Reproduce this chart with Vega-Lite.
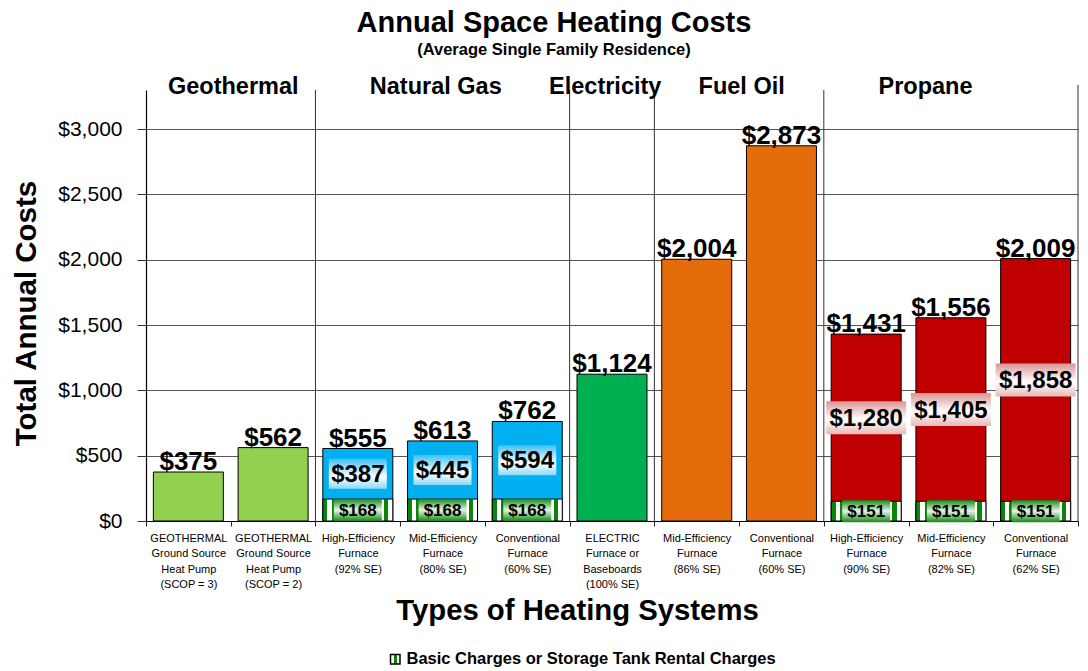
{
  "$schema": "https://vega.github.io/schema/vega-lite/v6.json",
  "width": 932,
  "height": 431,
  "autosize": {"type": "none"},
  "padding": {"left": 146, "top": 90, "right": 10, "bottom": 150},
  "background": "white",
  "config": {
    "view": {"stroke": null},
    "font": "Liberation Sans",
    "text": {"font": "Liberation Sans"}
  },
  "title": {
    "text": "Annual Space Heating Costs",
    "subtitle": "(Average Single Family Residence)",
    "font": "Liberation Sans",
    "fontSize": 29,
    "fontWeight": "bold",
    "color": "black",
    "subtitleFont": "Liberation Sans",
    "subtitleFontSize": 16.5,
    "subtitleFontWeight": "bold",
    "subtitleColor": "black",
    "subtitlePadding": 4,
    "anchor": "middle",
    "dx": -58,
    "offset": 17
  },
  "datasets": {
    "costs": [
      {"sys": "GEOTHERMAL|Ground Source|Heat Pump|(SCOP = 3)", "fuel": "Geothermal", "base": 0, "energy": 375, "total": 375},
      {"sys": "GEOTHERMAL|Ground Source|Heat Pump|(SCOP = 2)", "fuel": "Geothermal", "base": 0, "energy": 562, "total": 562},
      {"sys": "High-Efficiency|Furnace|(92% SE)", "fuel": "Natural Gas", "base": 168, "energy": 387, "total": 555},
      {"sys": "Mid-Efficiency|Furnace|(80% SE)", "fuel": "Natural Gas", "base": 168, "energy": 445, "total": 613},
      {"sys": "Conventional|Furnace|(60% SE)", "fuel": "Natural Gas", "base": 168, "energy": 594, "total": 762},
      {"sys": "ELECTRIC|Furnace or|Baseboards|(100% SE)", "fuel": "Electricity", "base": 0, "energy": 1124, "total": 1124},
      {"sys": "Mid-Efficiency|Furnace|(86% SE)", "fuel": "Fuel Oil", "base": 0, "energy": 2004, "total": 2004},
      {"sys": "Conventional|Furnace|(60% SE) ", "fuel": "Fuel Oil", "base": 0, "energy": 2873, "total": 2873},
      {"sys": "High-Efficiency|Furnace|(90% SE)", "fuel": "Propane", "base": 151, "energy": 1280, "total": 1431},
      {"sys": "Mid-Efficiency|Furnace|(82% SE)", "fuel": "Propane", "base": 151, "energy": 1405, "total": 1556},
      {"sys": "Conventional|Furnace|(62% SE)", "fuel": "Propane", "base": 151, "energy": 1858, "total": 2009}
    ],
    "groupStarts": [
      {"at": "High-Efficiency|Furnace|(92% SE)"},
      {"at": "ELECTRIC|Furnace or|Baseboards|(100% SE)"},
      {"at": "Mid-Efficiency|Furnace|(86% SE)"},
      {"at": "High-Efficiency|Furnace|(90% SE)"}
    ],
    "lastGroupEnd": [
      {"at": "Conventional|Furnace|(62% SE)"}
    ],
    "headersA": [
      {"name": "Geothermal", "at": "GEOTHERMAL|Ground Source|Heat Pump|(SCOP = 2)"},
      {"name": "Fuel Oil", "at": "Conventional|Furnace|(60% SE) "}
    ],
    "headersB": [
      {"name": "Natural Gas", "at": "Mid-Efficiency|Furnace|(80% SE)"},
      {"name": "Electricity", "at": "ELECTRIC|Furnace or|Baseboards|(100% SE)"}
    ],
    "headersC": [
      {"name": "Propane", "at": "Mid-Efficiency|Furnace|(82% SE)"}
    ]
  },
  "layer": [
    {
      "data": {"name": "costs"},
      "mark": {"type": "bar", "width": {"band": 0.826}, "stroke": "black", "strokeWidth": 1},
      "encoding": {
        "x": {
          "field": "sys",
          "type": "nominal",
          "sort": null,
          "scale": {
            "paddingInner": 0,
            "paddingOuter": 0,
            "domain": [
              "GEOTHERMAL|Ground Source|Heat Pump|(SCOP = 3)",
              "GEOTHERMAL|Ground Source|Heat Pump|(SCOP = 2)",
              "High-Efficiency|Furnace|(92% SE)",
              "Mid-Efficiency|Furnace|(80% SE)",
              "Conventional|Furnace|(60% SE)",
              "ELECTRIC|Furnace or|Baseboards|(100% SE)",
              "Mid-Efficiency|Furnace|(86% SE)",
              "Conventional|Furnace|(60% SE) ",
              "High-Efficiency|Furnace|(90% SE)",
              "Mid-Efficiency|Furnace|(82% SE)",
              "Conventional|Furnace|(62% SE)"
            ]
          },
          "axis": {
            "title": "Types of Heating Systems",
            "titleFont": "Liberation Sans",
            "titleFontSize": 29.3,
            "titleFontWeight": "bold",
            "titleColor": "black",
            "titleX": 431,
            "titleY": 89,
            "titleAlign": "center",
            "titleBaseline": "middle",
            "labelExpr": "split(datum.label, '|')",
            "labelAngle": 0,
            "labelFont": "Liberation Sans",
            "labelFontSize": 11,
            "labelLineHeight": 15.5,
            "labelColor": "black",
            "labelLimit": 0,
            "labelPadding": 6,
            "tickBand": "extent",
            "tickSize": 5,
            "tickColor": "#222",
            "domainColor": "black",
            "domainWidth": 1.2
          }
        },
        "y": {
          "field": "total",
          "type": "quantitative",
          "scale": {"domain": [0, 3300], "nice": false},
          "axis": {
            "title": "Total Annual Costs",
            "titleFont": "Liberation Sans",
            "titleFontSize": 29.5,
            "titleFontWeight": "bold",
            "titleColor": "black",
            "titleX": -120,
            "titleY": 223,
            "titleAngle": -90,
            "titleAlign": "center",
            "titleBaseline": "middle",
            "values": [0, 500, 1000, 1500, 2000, 2500, 3000],
            "format": "$,d",
            "labelFontSize": 21,
            "labelColor": "black",
            "labelPadding": 15,
            "tickSize": 9,
            "tickColor": "#333",
            "domainColor": "black",
            "domainWidth": 1.2,
            "grid": true,
            "gridColor": "#555",
            "gridWidth": 1
          }
        },
        "color": {
          "field": "fuel",
          "type": "nominal",
          "scale": {
            "domain": ["Geothermal", "Natural Gas", "Electricity", "Fuel Oil", "Propane"],
            "range": ["#92D050", "#00B0F0", "#00B050", "#E46C0A", "#C00000"]
          },
          "legend": null
        }
      }
    },
    {
      "data": {"name": "groupStarts"},
      "mark": {"type": "rule", "color": "#333", "strokeWidth": 1},
      "encoding": {
        "x": {"field": "at", "type": "nominal", "bandPosition": 0},
        "y": {"datum": 0},
        "y2": {"datum": 3300}
      }
    },
    {
      "data": {"name": "lastGroupEnd"},
      "mark": {"type": "rule", "color": "#333", "strokeWidth": 1},
      "encoding": {
        "x": {"field": "at", "type": "nominal", "bandPosition": 1},
        "y": {"datum": 0},
        "y2": {"datum": 3340}
      }
    },
    {
      "data": {"name": "costs"},
      "transform": [{"filter": "datum.base > 0"}],
      "mark": {
        "type": "bar",
        "width": {"band": 0.826},
        "strokeWidth": 1,
        "fill": {
          "gradient": "linear", "x1": 0, "y1": 0, "x2": 1, "y2": 0,
          "stops": [
            {"offset": 0, "color": "#0A850A"}, {"offset": 0.0625, "color": "#0A850A"},
            {"offset": 0.0625, "color": "#FFFFFF"}, {"offset": 0.125, "color": "#FFFFFF"},
            {"offset": 0.125, "color": "#0A850A"}, {"offset": 0.1875, "color": "#0A850A"},
            {"offset": 0.1875, "color": "#FFFFFF"}, {"offset": 0.25, "color": "#FFFFFF"},
            {"offset": 0.25, "color": "#0A850A"}, {"offset": 0.3125, "color": "#0A850A"},
            {"offset": 0.3125, "color": "#FFFFFF"}, {"offset": 0.375, "color": "#FFFFFF"},
            {"offset": 0.375, "color": "#0A850A"}, {"offset": 0.4375, "color": "#0A850A"},
            {"offset": 0.4375, "color": "#FFFFFF"}, {"offset": 0.5, "color": "#FFFFFF"},
            {"offset": 0.5, "color": "#0A850A"}, {"offset": 0.5625, "color": "#0A850A"},
            {"offset": 0.5625, "color": "#FFFFFF"}, {"offset": 0.625, "color": "#FFFFFF"},
            {"offset": 0.625, "color": "#0A850A"}, {"offset": 0.6875, "color": "#0A850A"},
            {"offset": 0.6875, "color": "#FFFFFF"}, {"offset": 0.75, "color": "#FFFFFF"},
            {"offset": 0.75, "color": "#0A850A"}, {"offset": 0.8125, "color": "#0A850A"},
            {"offset": 0.8125, "color": "#FFFFFF"}, {"offset": 0.875, "color": "#FFFFFF"},
            {"offset": 0.875, "color": "#0A850A"}, {"offset": 0.9375, "color": "#0A850A"},
            {"offset": 0.9375, "color": "#FFFFFF"}, {"offset": 1, "color": "#FFFFFF"}
          ]
        }
      },
      "encoding": {
        "x": {"field": "sys", "type": "nominal"},
        "y": {"field": "base", "type": "quantitative"},
        "stroke": {
          "datum": "Basic Charges or Storage Tank Rental Charges",
          "type": "nominal",
          "scale": {"range": ["#000000"]},
          "legend": {
            "title": null,
            "orient": "none",
            "legendX": 241,
            "legendY": 561,
            "symbolType": "square",
            "symbolSize": 90,
            "symbolFillColor": "#1E961E",
            "symbolStrokeWidth": 1.5,
            "labelFont": "Liberation Sans",
            "labelFontSize": 16.5,
            "labelFontWeight": "bold",
            "labelColor": "black",
            "labelLimit": 0,
            "labelOffset": 3
          }
        }
      }
    },
    {
      "data": {"name": "costs"},
      "mark": {"type": "text", "fontSize": 26, "fontWeight": "bold", "baseline": "alphabetic", "dy": -2, "color": "black"},
      "encoding": {
        "x": {"field": "sys", "type": "nominal"},
        "y": {"field": "total", "type": "quantitative"},
        "text": {"field": "total", "type": "quantitative", "format": "$,d"}
      }
    },
    {
      "data": {"name": "costs"},
      "transform": [
        {"filter": "datum.fuel == 'Natural Gas'"},
        {"calculate": "(datum.base + datum.total) / 2", "as": "labelMid"}
      ],
      "mark": {
        "type": "point", "filled": true, "opacity": 1, "strokeWidth": 0,
        "shape": "M-1,-0.517H1V0.517H-1Z", "size": 3364,
        "fill": {
          "gradient": "linear", "x1": 0, "y1": 0, "x2": 0, "y2": 1,
          "stops": [
            {"offset": 0, "color": "#3FC0F2"},
            {"offset": 0.6, "color": "#FFFFFF"},
            {"offset": 1, "color": "#8DD8F5"}
          ]
        }
      },
      "encoding": {
        "x": {"field": "sys", "type": "nominal"},
        "y": {"field": "labelMid", "type": "quantitative"}
      }
    },
    {
      "data": {"name": "costs"},
      "transform": [
        {"filter": "datum.fuel == 'Propane'"},
        {"calculate": "(datum.base + datum.total) / 2", "as": "labelMid"}
      ],
      "mark": {
        "type": "point", "filled": true, "opacity": 1, "strokeWidth": 0,
        "shape": "M-1,-0.4125H1V0.4125H-1Z", "size": 6400,
        "fill": {
          "gradient": "linear", "x1": 0, "y1": 0, "x2": 0, "y2": 1,
          "stops": [
            {"offset": 0, "color": "#D99594"},
            {"offset": 0.55, "color": "#FFFFFF"},
            {"offset": 1, "color": "#E6B9B8"}
          ]
        }
      },
      "encoding": {
        "x": {"field": "sys", "type": "nominal"},
        "y": {"field": "labelMid", "type": "quantitative"}
      }
    },
    {
      "data": {"name": "costs"},
      "transform": [
        {"filter": "datum.base > 0"},
        {"calculate": "(datum.base + datum.total) / 2", "as": "labelMid"}
      ],
      "mark": {"type": "text", "fontSize": 24, "fontWeight": "bold", "baseline": "middle", "color": "black", "dy": 1},
      "encoding": {
        "x": {"field": "sys", "type": "nominal"},
        "y": {"field": "labelMid", "type": "quantitative"},
        "text": {"field": "energy", "type": "quantitative", "format": "$,d"}
      }
    },
    {
      "data": {"name": "costs"},
      "transform": [
        {"filter": "datum.base > 0"},
        {"calculate": "datum.base / 2", "as": "baseMid"}
      ],
      "mark": {
        "type": "point", "filled": true, "opacity": 1, "strokeWidth": 0,
        "shape": "M-1,-0.458H1V0.458H-1Z", "size": 2304,
        "fill": {
          "gradient": "linear", "x1": 0, "y1": 0, "x2": 0, "y2": 1,
          "stops": [
            {"offset": 0, "color": "#138A13"},
            {"offset": 0.5, "color": "#E6F4E6"},
            {"offset": 1, "color": "#138A13"}
          ]
        }
      },
      "encoding": {
        "x": {"field": "sys", "type": "nominal"},
        "y": {"field": "baseMid", "type": "quantitative"}
      }
    },
    {
      "data": {"name": "costs"},
      "transform": [
        {"filter": "datum.base > 0"},
        {"calculate": "datum.base / 2", "as": "baseMid"}
      ],
      "mark": {"type": "text", "fontSize": 17, "fontWeight": "bold", "baseline": "middle", "color": "black", "dy": 1},
      "encoding": {
        "x": {"field": "sys", "type": "nominal"},
        "y": {"field": "baseMid", "type": "quantitative"},
        "text": {"field": "base", "type": "quantitative", "format": "$,d"}
      }
    },
    {
      "data": {"name": "headersA"},
      "mark": {"type": "text", "fontSize": 23.5, "fontWeight": "bold", "baseline": "alphabetic", "dy": 4, "color": "black"},
      "encoding": {
        "x": {"field": "at", "type": "nominal", "bandPosition": 0.03},
        "y": {"datum": 3300},
        "text": {"field": "name"}
      }
    },
    {
      "data": {"name": "headersB"},
      "mark": {"type": "text", "fontSize": 23.5, "fontWeight": "bold", "baseline": "alphabetic", "dy": 4, "color": "black"},
      "encoding": {
        "x": {"field": "at", "type": "nominal", "bandPosition": 0.42},
        "y": {"datum": 3300},
        "text": {"field": "name"}
      }
    },
    {
      "data": {"name": "headersC"},
      "mark": {"type": "text", "fontSize": 23.5, "fontWeight": "bold", "baseline": "alphabetic", "dy": 4, "color": "black"},
      "encoding": {
        "x": {"field": "at", "type": "nominal", "bandPosition": 0.2},
        "y": {"datum": 3300},
        "text": {"field": "name"}
      }
    }
  ]
}
